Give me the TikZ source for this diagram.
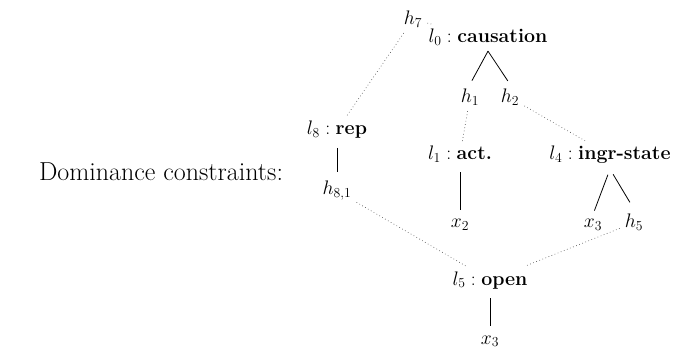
\RequirePackage{fix-cm}
\documentclass[tikz,border=0pt]{standalone}
\begin{document}
\begin{tikzpicture}[x=1pt,y=-1pt,
  lab/.style={inner sep=5pt, anchor=base, font=\fontsize{19.6}{23}\selectfont},
  treeline/.style={line width=0.8pt, shorten >=4pt},
  vline/.style={line width=0.8pt, shorten <=4pt, shorten >=4pt},
  dom/.style={line width=0.6pt, dash pattern=on 0.7pt off 2.6pt, black!70}]
\useasboundingbox (0,0) rectangle (679,352);
\node[anchor=base, inner sep=0pt, font=\fontsize{26}{30}\selectfont] (dc) at (161,181) {Dominance constraints:};
\node[lab] (h7) at (413,25) {$h_7$};
\node[lab] (l0) at (488,43) {$l_0 : \textbf{causation}$};
\node[lab] (h1) at (470,103) {$h_1$};
\node[lab] (h2) at (510,103) {$h_2$};
\node[lab] (l8) at (337,135) {$l_8 : \textbf{rep}$};
\node[lab] (h81) at (337,195) {$h_{8,1}$};
\node[lab] (l1) at (460,160) {$l_1 : \textbf{act.}$};
\node[lab] (x2) at (460,228) {$x_2$};
\node[lab] (l4) at (610,160) {$l_4 : \textbf{ingr-state}$};
\node[lab] (x3a) at (593,228) {$x_3$};
\node[lab] (h5) at (634,228) {$h_5$};
\node[lab] (l5) at (490,285) {$l_5 : \textbf{open}$};
\node[lab] (x3b) at (490,344) {$x_3$};
% solid tree edges
\draw[treeline] (l0.south) -- (h1.north);
\draw[treeline] (l0.south) -- (h2.north);
\draw[vline] (l8.south) -- (h81.north);
\draw[vline] (l1.south) -- (x2.north);
\draw[treeline, shorten <=6pt] (l4.south) -- (x3a.north);
\draw[treeline, shorten <=6pt, shorten >=8pt] (l4.south) -- (h5.north);
\draw[vline] (l5.south) -- (x3b.north);
% dominance edges
\draw[dom] (h7) -- (l0);
\draw[dom] (h7) -- (l8);
\draw[dom] (h1) -- (l1);
\draw[dom] (h2) -- (l4);
\draw[dom] (h81) -- (l5);
\draw[dom] (h5) -- (l5);
\end{tikzpicture}
\end{document}
